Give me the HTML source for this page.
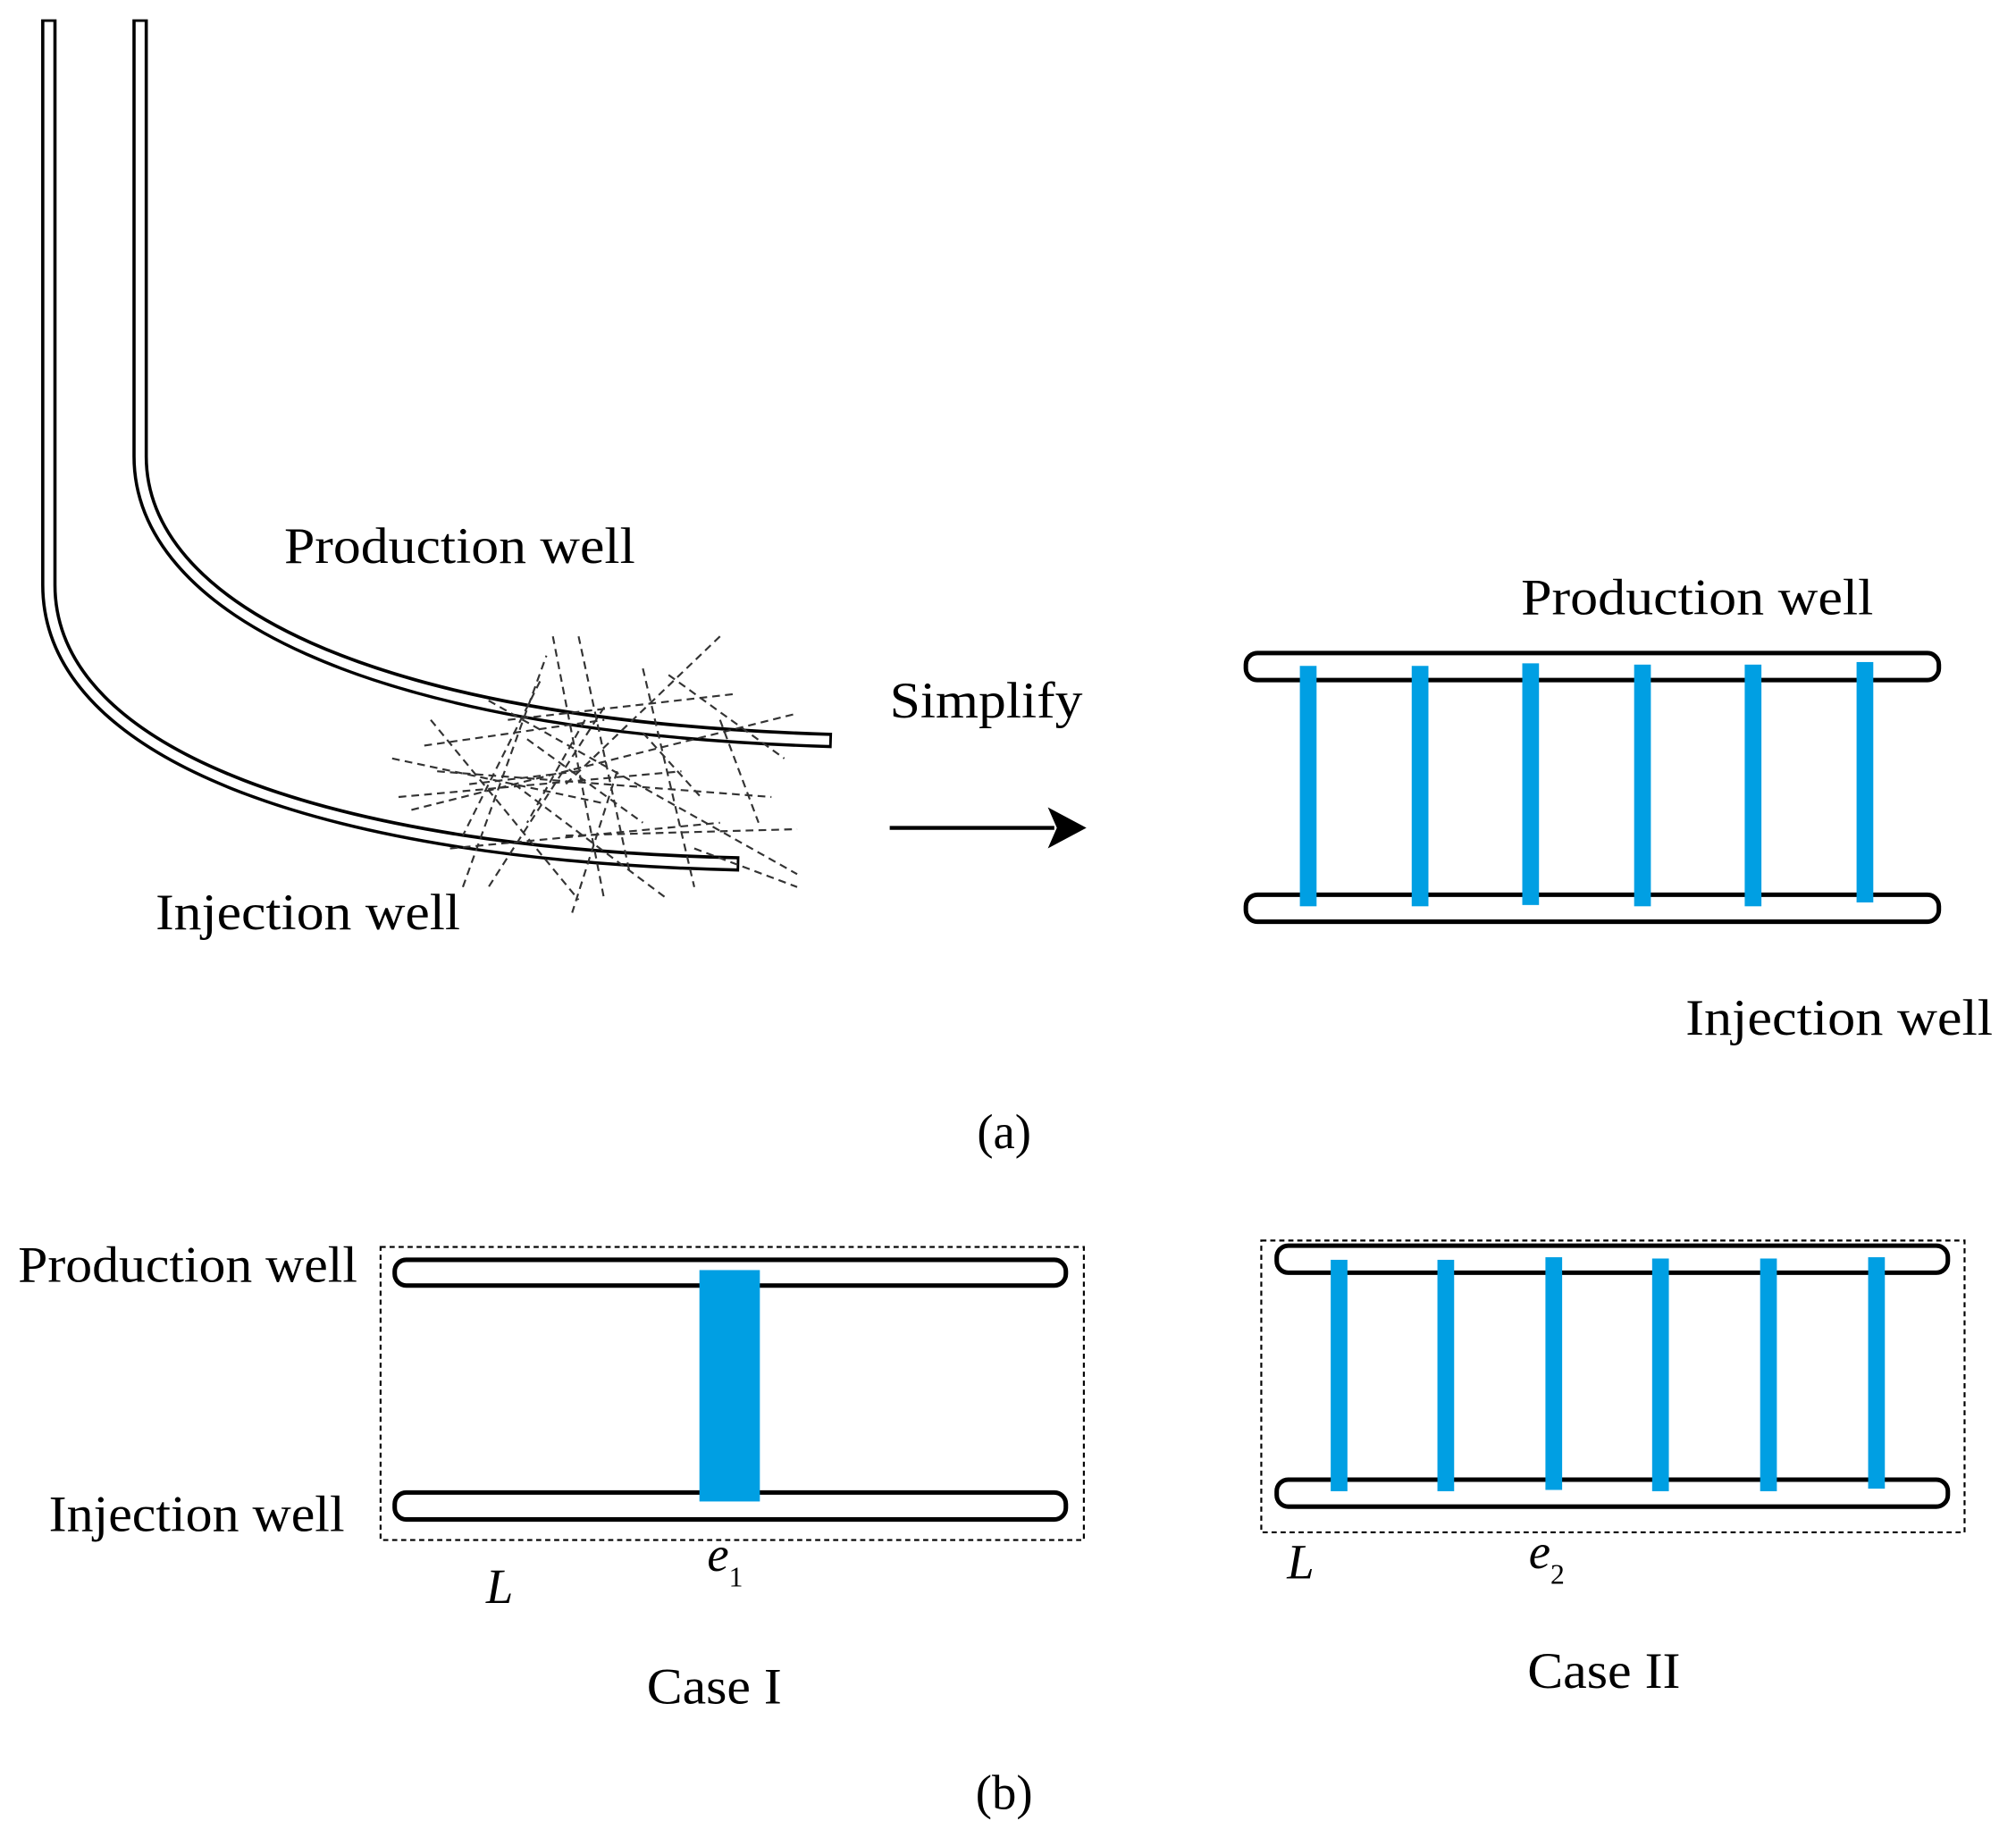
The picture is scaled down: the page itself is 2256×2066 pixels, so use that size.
<!DOCTYPE html>
<html><head><meta charset="utf-8"><style>html,body{margin:0;padding:0;background:#fff}svg{display:block}</style></head>
<body>
<svg width="2256" height="2066" viewBox="0 0 1568 1436" preserveAspectRatio="none" xmlns="http://www.w3.org/2000/svg" font-family="'Liberation Serif', serif" fill="#000">
<rect width="1568" height="1436" fill="#fff"/>
<g fill="none" stroke-linecap="butt">
<path d="M109,15 V355 C109,470 280,565 647,576" stroke="#000" stroke-width="12"/>
<path d="M109,17 V355 C109,470 280,565 645,576" stroke="#fff" stroke-width="7"/>
<path d="M38,15 V455 C38,590 260,665 575,672" stroke="#000" stroke-width="12"/>
<path d="M38,17 V455 C38,590 260,665 573,672" stroke="#fff" stroke-width="7"/>
</g>
<g stroke="#333" stroke-width="1.5" stroke-dasharray="6,4" fill="none">
<line x1="335" y1="560" x2="450" y2="700"/><line x1="305" y1="590" x2="470" y2="625"/>
<line x1="320" y1="630" x2="620" y2="555"/><line x1="360" y1="690" x2="425" y2="510"/>
<line x1="430" y1="495" x2="470" y2="700"/><line x1="450" y1="495" x2="490" y2="680"/>
<line x1="560" y1="495" x2="440" y2="610"/><line x1="395" y1="560" x2="570" y2="540"/>
<line x1="340" y1="600" x2="600" y2="620"/><line x1="380" y1="545" x2="620" y2="680"/>
<line x1="420" y1="530" x2="360" y2="650"/><line x1="500" y1="520" x2="540" y2="690"/>
<line x1="310" y1="620" x2="530" y2="600"/><line x1="350" y1="660" x2="560" y2="640"/>
<line x1="470" y1="550" x2="380" y2="690"/><line x1="520" y1="525" x2="610" y2="590"/>
<line x1="440" y1="650" x2="620" y2="645"/><line x1="400" y1="610" x2="520" y2="700"/>
<line x1="330" y1="580" x2="470" y2="560"/><line x1="480" y1="600" x2="445" y2="710"/>
<line x1="560" y1="560" x2="590" y2="640"/><line x1="410" y1="575" x2="500" y2="640"/>
<line x1="540" y1="660" x2="620" y2="690"/><line x1="455" y1="560" x2="410" y2="640"/>
<line x1="365" y1="610" x2="450" y2="600"/><line x1="500" y1="570" x2="545" y2="620"/>
</g>
<text x="221" y="438" font-size="40" textLength="273" lengthAdjust="spacingAndGlyphs">Production well</text>
<text x="121" y="723" font-size="40" textLength="237" lengthAdjust="spacingAndGlyphs">Injection well</text>
<text x="692" y="558" font-size="40" textLength="150" lengthAdjust="spacingAndGlyphs">Simplify</text>
<line x1="692" y1="644" x2="820" y2="644" stroke="#000" stroke-width="3"/>
<path d="M845,644 L815,628 L822,644 L815,660 Z"/>
<text x="781" y="893" font-size="38" text-anchor="middle">(a)</text>
<g fill="#fff" stroke="#000" stroke-width="3.5">
<rect x="969" y="508" width="539" height="21" rx="9"/>
<rect x="969" y="696" width="539" height="21" rx="9"/>
</g>
<g fill="#009FE3">
<rect x="1011" y="518" width="13" height="187"/><rect x="1098" y="518" width="13" height="187"/>
<rect x="1184" y="516" width="13" height="188"/><rect x="1271" y="517" width="13" height="188"/>
<rect x="1357" y="517" width="13" height="188"/><rect x="1444" y="515" width="13" height="187"/>
</g>
<text x="1183" y="478" font-size="40" textLength="274" lengthAdjust="spacingAndGlyphs">Production well</text>
<text x="1311" y="805" font-size="40" textLength="239" lengthAdjust="spacingAndGlyphs">Injection well</text>
<rect x="296" y="970" width="547" height="228" fill="none" stroke="#000" stroke-width="1.5" stroke-dasharray="4,3"/>
<g fill="#fff" stroke="#000" stroke-width="3.5">
<rect x="307" y="980" width="522" height="20" rx="9"/>
<rect x="307" y="1161" width="522" height="21" rx="9"/>
</g>
<rect x="544" y="988" width="47" height="180" fill="#009FE3"/>
<text x="14" y="997" font-size="40" textLength="264" lengthAdjust="spacingAndGlyphs">Production well</text>
<text x="38" y="1191" font-size="40" textLength="230" lengthAdjust="spacingAndGlyphs">Injection well</text>
<text x="378" y="1247" font-size="38" font-style="italic">L</text>
<text x="550" y="1222" font-size="38" font-style="italic">e<tspan font-size="22" font-style="normal" dy="12">1</tspan></text>
<text x="503" y="1325" font-size="40" textLength="105" lengthAdjust="spacingAndGlyphs">Case I</text>
<rect x="981" y="965" width="547" height="227" fill="none" stroke="#000" stroke-width="1.5" stroke-dasharray="4,3"/>
<g fill="#fff" stroke="#000" stroke-width="3.5">
<rect x="993" y="969" width="522" height="21" rx="9"/>
<rect x="993" y="1151" width="522" height="21" rx="9"/>
</g>
<g fill="#009FE3">
<rect x="1035" y="980" width="13" height="180"/><rect x="1118" y="980" width="13" height="180"/>
<rect x="1202" y="978" width="13" height="181"/><rect x="1285" y="979" width="13" height="181"/>
<rect x="1369" y="979" width="13" height="181"/><rect x="1453" y="978" width="13" height="180"/>
</g>
<text x="1001" y="1228" font-size="38" font-style="italic">L</text>
<text x="1189" y="1220" font-size="38" font-style="italic">e<tspan font-size="22" font-style="normal" dy="12">2</tspan></text>
<text x="1188" y="1313" font-size="40" textLength="119" lengthAdjust="spacingAndGlyphs">Case II</text>
<text x="781" y="1407" font-size="38" text-anchor="middle">(b)</text>
</svg>
</body></html>
